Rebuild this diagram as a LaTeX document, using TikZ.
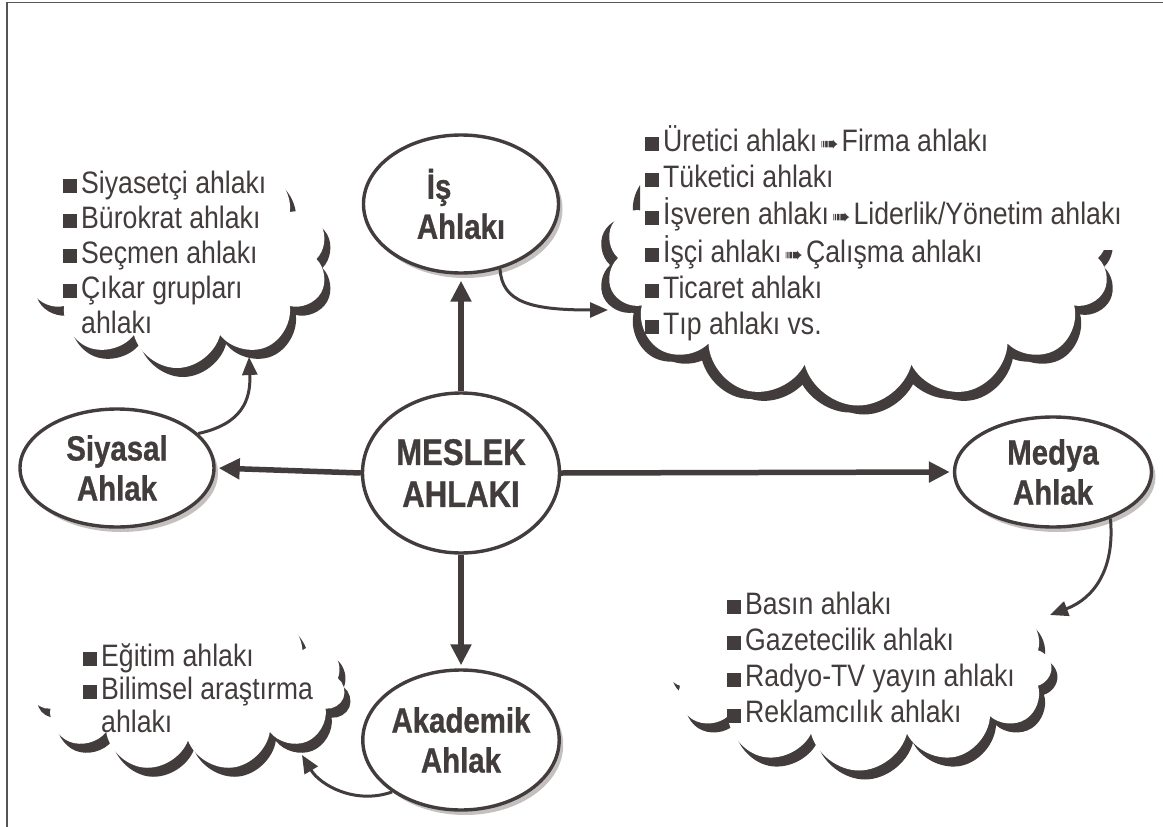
\documentclass[tikz,border=0pt]{standalone}
\usepackage{fontspec}
\setmainfont{Liberation Sans}
\newfontfamily\itemfont[FakeStretch=0.86]{Liberation Sans}
\newfontfamily\labfont[FakeStretch=0.84,FakeBold=0.8]{Liberation Sans}
\newfontfamily\dvfont{DejaVu Sans}
\usetikzlibrary{shapes.symbols,shapes.geometric,arrows.meta,shadows}
\definecolor{dk}{HTML}{433C3C}
\definecolor{sh}{HTML}{C4C0C0}
\definecolor{fr}{HTML}{555555}
\newcommand\sqb{\textcolor{dk}{\rule{14pt}{14pt}}\hspace{4pt}}
\newcommand\arr{\hspace{3pt}{\dvfont\fontsize{22}{22}\selectfont ➠}\hspace{3pt}}
\tikzset{
  cloudshadow/.style={cloud, cloud ignores aspect, fill=dk, draw=none, inner sep=0pt},
  cloudwhite/.style={cloud, cloud ignores aspect, fill=white, draw=none, inner sep=0pt},
  ell/.style={ellipse, draw=dk, line width=3.4pt, fill=white, inner sep=0pt,
    text=dk, font=\labfont\bfseries\fontsize{35}{40}\selectfont},
  ellsh/.style={ell, drop shadow={shadow xshift=4pt, shadow yshift=-5pt, fill=sh, opacity=1}},
  listnode/.style={inner sep=0pt, text=dk, anchor=base west, font=\itemfont},
  bigarrow/.style={draw=dk, line width=5.5pt, -{Triangle[length=21pt,width=20pt]}},
  thinarrow/.style={draw=dk, line width=3pt, -{Triangle[length=18pt,width=15pt]}}
}
\begin{document}
\begin{tikzpicture}[x=1pt,y=-1pt]
\useasboundingbox (0,0) rectangle (1163,827);
\fill[white] (0,0) rectangle (1163,827);
% frame
\draw[fr, line width=1.6pt] (7,827) -- (7,2.5) -- (1163,2.5);

% clouds: dark copies shifted (clipped to their lower part), white copy on top
\begin{scope}
\clip (0,160) rectangle (400,400);
\node[cloudshadow, cloud puffs=10, minimum width=303pt, minimum height=218pt] (cloudAs) at (183,268) {};
\end{scope}
\node[cloudwhite, cloud puffs=10, minimum width=303pt, minimum height=218pt] (cloudA) at (177,259) {};

\begin{scope}
\clip (560,168) -- (640,168) -- (640,250) -- (1163,250) -- (1163,430) -- (560,430) -- cycle;
\node[cloudshadow, cloud puffs=14, minimum width=505pt, minimum height=295pt] (cloudBs) at (864,267) {};
\node[cloudshadow, cloud puffs=14, minimum width=505pt, minimum height=295pt] (cloudBs2) at (850,265) {};
\end{scope}
\node[cloudwhite, cloud puffs=14, minimum width=505pt, minimum height=295pt] (cloudB) at (858,258) {};

\begin{scope}
\clip (640,640) -- (1000,640) -- (1000,572) -- (1163,572) -- (1163,800) -- (640,800) -- cycle;
\node[cloudshadow, cloud puffs=12, minimum width=385pt, minimum height=205pt] (cloudCs) at (865,677) {};
\end{scope}
\node[cloudwhite, cloud puffs=12, minimum width=385pt, minimum height=205pt] (cloudC) at (859,668) {};

\begin{scope}
\clip (0,700) -- (280,700) -- (280,612) -- (400,612) -- (400,800) -- (0,800) -- cycle;
\node[cloudshadow, cloud puffs=11, minimum width=314pt, minimum height=170pt] (cloudDs) at (194,695) {};
\end{scope}
\node[cloudwhite, cloud puffs=11, minimum width=314pt, minimum height=170pt] (cloudD) at (188,686) {};

% ellipses
\node[ell, minimum width=197pt, minimum height=160pt, font=\labfont\bfseries\fontsize{37}{42}\selectfont, align=center] (meslek) at (461,473) {MESLEK\\AHLAKI};
\node[ellsh, minimum width=195pt, minimum height=138pt, align=left] (is) at (461,204) {\hspace{10pt}İş\\Ahlakı};
\node[ellsh, minimum width=194pt, minimum height=118pt, align=center] (siyasal) at (117,468) {Siyasal\\Ahlak};
\node[ellsh, minimum width=197pt, minimum height=110pt, align=center] (medya) at (1053,472) {Medya\\Ahlak};
\node[ellsh, minimum width=180pt, minimum height=140pt, align=center] (akad) at (461,740) {Akademik\\Ahlak};

% lists
\node[listnode] (listA) at (63,193) {\fontsize{31}{35}\selectfont\begin{tabular}[t]{@{}l@{}}
\sqb Siyasetçi ahlakı\\
\sqb Bürokrat ahlakı\\
\sqb Seçmen ahlakı\\
\sqb Çıkar grupları\\
\hspace{18pt}ahlakı\end{tabular}};
\node[listnode] (listB) at (645,151) {\fontsize{31}{36}\selectfont\begin{tabular}[t]{@{}l@{}}
\sqb Üretici ahlakı\arr Firma ahlakı\\
\sqb Tüketici ahlakı\\
\sqb İşveren ahlakı\arr Liderlik/Yönetim ahlakı\\
\sqb İşçi ahlakı\arr Çalışma ahlakı\\
\sqb Ticaret ahlakı\\
\sqb Tıp ahlakı vs.\end{tabular}};
\node[listnode] (listC) at (727,614) {\fontsize{31}{36.3}\selectfont\begin{tabular}[t]{@{}l@{}}
\sqb Basın ahlakı\\
\sqb Gazetecilik ahlakı\\
\sqb Radyo-TV yayın ahlakı\\
\sqb Reklamcılık ahlakı\end{tabular}};
\node[listnode] (listD) at (83,666) {\fontsize{31}{33}\selectfont\begin{tabular}[t]{@{}l@{}}
\sqb Eğitim ahlakı\\
\sqb Bilimsel araştırma\\
\hspace{18pt}ahlakı\end{tabular}};

% straight arrows
\draw[bigarrow, shorten >=6pt] (meslek.north) -- (is.south);
\draw[bigarrow, shorten >=3pt] (meslek.west) -- (siyasal.east);
\draw[bigarrow, shorten >=3pt] (meslek.east) -- (medya.west);
\draw[bigarrow, shorten >=3pt] (meslek.south) -- (akad.north);

% curved arrows
\coordinate (tipA) at (249,357);
\coordinate (tipB) at (608,310);
\coordinate (tipC) at (1050,615);
\coordinate (tipD) at (302,755);
\draw[thinarrow] (siyasal.23) .. controls (242,424) and (251,400) .. (tipA);
\draw[thinarrow] (is.-59) .. controls (502,302) and (530,310) .. (tipB);
\draw[thinarrow] (medya.-39) .. controls (1115,568) and (1095,598) .. (tipC);
\draw[thinarrow] (akad.-143) .. controls (355,805) and (320,785) .. (tipD);
\end{tikzpicture}
\end{document}
